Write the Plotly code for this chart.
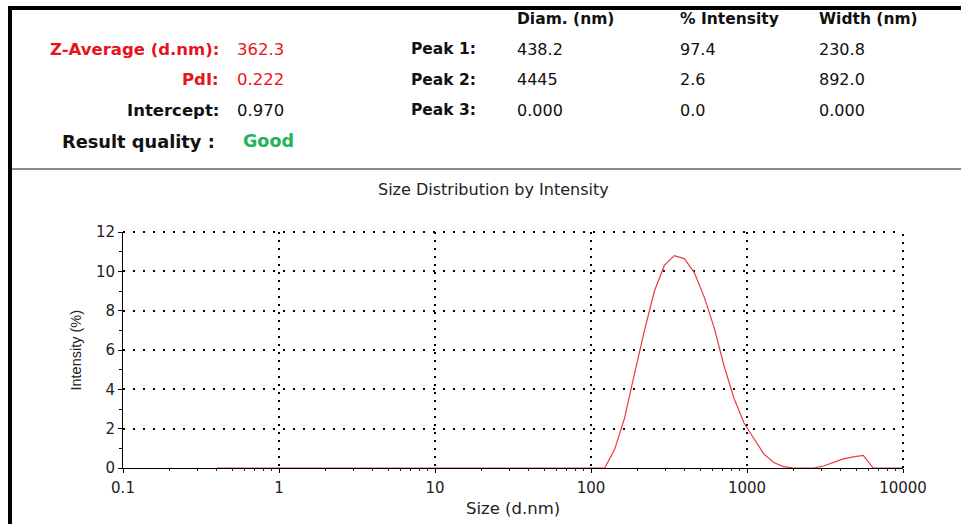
import plotly.graph_objects as go

# ---------------- data ----------------
size_nm = [0.4, 0.4632, 0.5365, 0.6213, 0.7195, 0.8332, 0.9649, 1.117, 1.294, 1.499,
           1.736, 2.010, 2.328, 2.696, 3.122, 3.615, 4.187, 4.849, 5.615, 6.503,
           7.531, 8.721, 10.10, 11.70, 13.54, 15.69, 18.17, 21.04, 24.36, 28.21,
           32.67, 37.84, 43.82, 50.75, 58.77, 68.06, 78.82, 91.28, 105.7, 122.4,
           141.8, 164.2, 190.1, 220.2, 255.0, 295.3, 342.0, 396.1, 458.7, 531.2,
           615.1, 712.4, 825.0, 955.4, 1106, 1281, 1484, 1718, 1990, 2305,
           2669, 3091, 3580, 4145, 4801, 5560, 6439, 7456, 8635, 10000]
intensity_pct = [0] * 39 + [0.0,
                 0.95, 2.55, 4.8, 7.0, 9.0, 10.3, 10.8, 10.65, 9.95, 8.7,
                 7.15, 5.2, 3.55, 2.3, 1.5, 0.72, 0.28, 0.07, 0.0, 0.0,
                 0.0, 0.1, 0.3, 0.46, 0.57, 0.64, 0.0, 0.0, 0.0, 0.0]

x_tick_vals = [0.1, 1, 10, 100, 1000, 10000]
x_tick_text = ["0.1", "1", "10", "100", "1000", "10000"]
y_tick_vals = [0, 2, 4, 6, 8, 10, 12]

chart_title = "Size Distribution by Intensity"
x_title = "Size (d.nm)"
y_title = "Intensity (%)"

left_labels = ["Z-Average (d.nm):", "PdI:", "Intercept:", "Result quality :"]
left_values = ["362.3", "0.222", "0.970", "Good"]
col_headers = ["Diam. (nm)", "% Intensity", "Width (nm)"]
peak_labels = ["Peak 1:", "Peak 2:", "Peak 3:"]
peak_diam = ["438.2", "4445", "0.000"]
peak_int = ["97.4", "2.6", "0.0"]
peak_width = ["230.8", "892.0", "0.000"]

# ---------------- layout helpers ----------------
W, H = 961, 524
ML, MR, MT, MB = 123, 58, 232, 56
PW = W - ML - MR
PH = H - MT - MB


def px(x):
    return (x - ML) / PW


def py(y):
    return (H - MB - y) / PH


RED = "#e8141c"
GREEN = "#1fb35a"
BLACK = "#111111"
HFONT = "DejaVu Sans"

annotations = []


def txt(text, x, y, anchor="left", size=16, color=BLACK, bold=False, family=HFONT, angle=0):
    annotations.append(dict(
        text=("<b>%s</b>" % text) if bold else text,
        x=px(x), y=py(y), xref="paper", yref="paper",
        xanchor=anchor, yanchor="middle", showarrow=False,
        textangle=angle, borderpad=0,
        font=dict(family=family, size=size, color=color)))


row_y = [49, 79.5, 110, 141]
label_colors = [RED, RED, BLACK, BLACK]
value_colors = [RED, RED, BLACK, GREEN]
value_x = [236, 236, 236, 242]
label_sizes = [16.5, 16.5, 16.5, 17.8]
value_sizes = [16.5, 16.5, 16.5, 17.5]
for i in range(4):
    txt(left_labels[i], 220 if i < 3 else 216, row_y[i], anchor="right", bold=True,
        color=label_colors[i], size=label_sizes[i])
    txt(left_values[i], value_x[i], row_y[i], color=value_colors[i], bold=(i == 3),
        size=value_sizes[i])

col_x = [516, 679, 818]
for j in range(3):
    txt(col_headers[j], col_x[j], 19, bold=True, size=15.5)
for i in range(3):
    txt(peak_labels[i], 477, row_y[i], anchor="right", bold=True, size=15.5)
    txt(peak_diam[i], col_x[0], row_y[i])
    txt(peak_int[i], col_x[1], row_y[i])
    txt(peak_width[i], col_x[2], row_y[i])

txt(chart_title, 493.5, 189.5, anchor="center", size=16, color="#222222")
txt(x_title, 512.5, 508, anchor="center", size=16.5, color="#222222")
txt(y_title, 75.5, 350, anchor="center", size=14.5, color="#222222",
    family="Liberation Sans", angle=-90)

shapes = [
    # left thick frame
    dict(type="rect", xref="paper", yref="paper", x0=px(8), x1=px(12), y0=py(H + 2), y1=py(6),
         fillcolor="black", line=dict(width=0), layer="above"),
    # top thick frame
    dict(type="rect", xref="paper", yref="paper", x0=px(8), x1=px(W + 2), y0=py(10), y1=py(6),
         fillcolor="black", line=dict(width=0), layer="above"),
    # separator
    dict(type="line", xref="paper", yref="paper", x0=px(12), x1=px(W + 2), y0=py(169), y1=py(169),
         line=dict(color="#8c8c8c", width=2), layer="above"),
    # dotted plot-area border (top and right), continuing the grid
    dict(type="line", xref="paper", yref="paper", x0=0, x1=1, y0=1, y1=1,
         line=dict(color="black", width=2, dash="2px,8px"), layer="above"),
    dict(type="line", xref="paper", yref="paper", x0=1, x1=1, y0=0, y1=1,
         line=dict(color="black", width=2, dash="2px,6px"), layer="above"),
]

fig = go.Figure()
fig.add_trace(go.Scatter(x=size_nm, y=intensity_pct, mode="lines",
                         line=dict(color="#ea3a40", width=1.2), showlegend=False,
                         hoverinfo="skip"))

xr = [-1, 4]
yr = [0, 12]
tickfont = dict(family=HFONT, size=15, color="#222222")

fig.update_layout(
    width=W, height=H,
    margin=dict(l=ML, r=MR, t=MT, b=MB, pad=0),
    paper_bgcolor="white", plot_bgcolor="white",
    showlegend=False,
    annotations=annotations,
    shapes=shapes,
    xaxis=dict(type="log", range=xr, tickvals=x_tick_vals, ticktext=x_tick_text,
               showline=True, linecolor="black", linewidth=1, mirror=False,
               ticks="outside", ticklen=4, tickcolor="black", tickwidth=1,
               showgrid=True, gridcolor="black", gridwidth=2, griddash="2px,6px",
               zeroline=False, tickfont=tickfont, ticklabelstandoff=2,
               minor=dict(ticks="outside", ticklen=2, tickcolor="#333333", dtick="D1", showgrid=False)),
    yaxis=dict(range=yr, tickvals=y_tick_vals,
               showline=True, linecolor="black", linewidth=1, mirror=False,
               ticks="outside", ticklen=4, tickcolor="black", tickwidth=1,
               showgrid=True, gridcolor="black", gridwidth=2, griddash="2px,8px",
               zeroline=False, tickfont=tickfont, ticklabelstandoff=0,
               minor=dict(ticks="outside", ticklen=3, tickcolor="black", dtick=1, showgrid=False)),
    xaxis2=dict(type="log", range=xr, overlaying="x", anchor="y", side="bottom",
                showline=False, showgrid=False, zeroline=False, showticklabels=False,
                ticks="", minor=dict(ticks="inside", ticklen=4, tickcolor="#333333", dtick="D1", showgrid=False)),
    yaxis2=dict(range=yr, overlaying="y", anchor="x", side="left",
                showline=False, showgrid=False, zeroline=False, showticklabels=False,
                tickvals=y_tick_vals, ticks="inside", ticklen=3, tickcolor="black",
                minor=dict(ticks="inside", ticklen=3, tickcolor="black", dtick=1, showgrid=False)),
)

fig.write_html("out.html", config={"displayModeBar": False},
               post_script="document.body.style.margin='0';document.body.style.overflow='hidden';")
